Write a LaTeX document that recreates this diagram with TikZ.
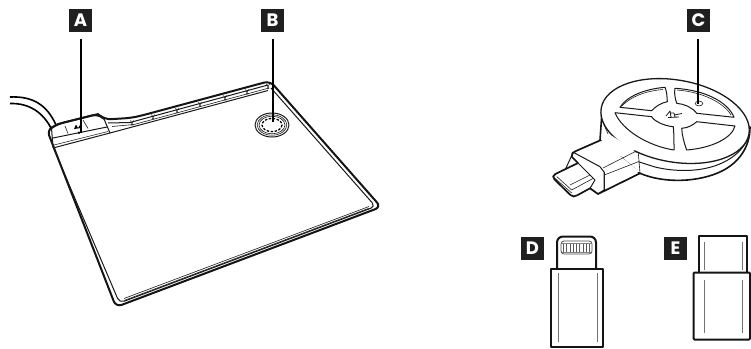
\documentclass[tikz,border=0pt]{standalone}
\usepackage{fontspec}
\setmainfont{Poppins}
\begin{document}
\begin{tikzpicture}[x=1pt,y=-1pt,
  tag/.style={fill=black!88,text=white,minimum size=23pt,inner sep=0pt,font=\fontsize{18}{18}\selectfont\bfseries},
  leader/.style={line width=1.8pt,shorten <=7pt},
  heavy/.style={line width=2pt,line join=round,black!92},
  mid/.style={line width=1pt,line join=round,black!90},
  thin/.style={line width=.6pt,line join=round,black!88},
  ghost/.style={line width=.8pt,black!55}]
\useasboundingbox (0,0) rectangle (751,348);
% ---- cable
\draw[line width=1.6pt] (10,97) .. controls (33,96) and (47,105) .. (56,125);
\draw[line width=1.6pt] (10,103.5) .. controls (30,103) and (43,113) .. (51,128);
% ---- pad
\draw[heavy,rounded corners=6pt,fill=white] (47,130) -- (116,307) -- (381,207) -- (270,81) -- (140,116) -- (130,118) -- (105,119.5) -- (98,114) -- (58,124) -- cycle;
\draw[mid,rounded corners=5pt] (53,147) -- (119.5,303) -- (375.5,206.5) -- (271,88);
\draw[thin] (124,298.5) -- (369,206.5);
\draw[thin] (124,300.5) -- (369,208.2);
% strip
\draw[mid] (53,148) -- (110,133) -- (268,90.5);
\draw[thin] (54,145) -- (108,131.5);
\draw[mid] (108,123) -- (130,122.5) -- (268,85);
\draw[thin] (112,126.5) -- (134,124.5) -- (269,88);
\foreach \x/\y in {132/123,153/117,177/110.5,200/104.5,225/98,247/92,268/86.5}
  \draw[thin] (\x-1.5,\y-2.5) -- (\x+1,\y+2.5) (\x+1.5,\y-2.5) -- (\x-1,\y+2.5);
% connector hump
\draw[heavy,line width=1.8pt] (51.7,128) -- (58,124) -- (98,114) -- (104,119);
\draw[mid] (104,119) -- (110,133);
\draw[mid] (51.5,128) -- (53,147);
\draw[mid] (53,138) -- (107,127);
\draw[thin] (65,126) -- (68,133.5) (83,120) -- (88,128.5);
\fill (74,129) -- (76,124.5) -- (78,128) -- (80,125) -- (81,128) -- cycle;
\fill (79,132.7) circle (1.4);
% ---- pad button
\coordinate (btn) at (272,125);
\draw[mid] (btn) ellipse (17 and 12);
\draw[thin] (btn) ellipse (14.8 and 10.2);
\draw[thin] (btn) ellipse (13 and 8.8);
\draw[line width=1.3pt,dash pattern=on 2.5pt off 1.5pt] (btn) ellipse (10 and 6.6);
% ---- dongle
\coordinate (dc) at (675,121);
% base of the disc and body silhouette
\draw[heavy,line width=1.6pt,fill=white] (602,112) -- (600,140) -- (640,173.3) .. controls (665,184) and (700,182) .. (722,171) .. controls (738,163) and (750,148) .. (750,127) -- cycle;
\fill[white] (598,142) -- (600,140) -- (640,172) -- (604,172) -- cycle;
\draw[mid] (638.3,161.7) -- (655,167) .. controls (680,173) and (705,171) .. (722,163) .. controls (733,158) and (743,150) .. (748,138);
\draw[thin] (602,120) -- (608,134);
% face
\draw[mid,line width=1.3pt,fill=white,rotate around={-10:(dc)}] (dc) ellipse (75 and 41);
% collar and body
\draw[mid,fill=white] (573.3,152.3) -- (600,166.7) -- (604,172) -- (604,190) -- (598,194) -- (590,188.3) -- (565,170) -- cycle;
\fill[white] (601,141) -- (576,152) -- (600,165) -- (635,150) -- (612,136) -- cycle;
\draw[heavy,line width=1.7pt] (601,140) -- (576,151) -- (572.5,153) -- (571.7,156.7) -- (578,163);
\draw[heavy,line width=1.7pt] (590,188.3) -- (598,194) -- (640,173.3);
\draw[thin] (603,168) -- (635,151.7) -- (638,152.5);
\draw[thin] (604.3,175) -- (638.3,161.7);
\draw[thin] (638.3,153) -- (640,173);
\draw[thin] (604,172) -- (604,190);
% USB-C plug
\draw[heavy,line width=1.7pt,fill=white,rounded corners=2pt] (578,163) -- (553.3,175) -- (553,178) -- (572,196.5) -- (575,196.5) -- (590,188.3);
\draw[mid] (578,163) -- (595,180) -- (590,188.3);
\draw[thin] (556.7,176.5) -- (571.7,190) -- (593.3,178.3);
\draw[thin] (570,185) -- (590,175);
\draw[thin] (555,178.3) -- (571.7,193);
% disc panels
\draw[mid] (620,107.3) .. controls (627,96) and (645,89) .. (665,87.3) .. controls (667,92) and (667,97) .. (667.3,101.7) .. controls (661,103) and (656,106) .. (651.7,110.7) -- cycle;
\draw[mid] (675,88.3) .. controls (705,90) and (728,102) .. (734,117.3) -- (696.7,113.3) .. controls (692,107) and (684,104) .. (676.7,103.3) .. controls (675,98) and (674,93) .. cycle;
\draw[mid] (696.7,121.7) -- (735,126) .. controls (732,138) and (712,148) .. (686.7,150) .. controls (684,143) and (682,135) .. (681.7,128.3) .. controls (688,128) and (693,125) .. cycle;
\draw[mid] (615,112.7) -- (651.7,116.7) .. controls (654,121) and (664,126) .. (673.3,126.7) .. controls (674,134) and (674,143) .. (674,150) .. controls (648,146) and (622,130) .. cycle;
\draw[thin] (622,106) .. controls (630,97) and (645,91) .. (663,89.5);
\draw[thin] (677,90) .. controls (703,92) and (724,103) .. (731,115);
% logo
\draw[mid,line width=.8pt] (666,116) -- (670,111) -- (671,117) (670,113) -- (674,113) -- (675,117) (674,115) -- (682,113.5) (668,117.5) -- (679,117);
% hole
\draw[thin] (699,103.5) ellipse (3.8 and 2.4);
% ---- adapter D
\draw[heavy,rounded corners=6pt] (557,268) -- (557,236.5) -- (596,236.5) -- (596,268);
\draw[heavy,fill=white] (551,268.5) rectangle (603,347);
\draw[black!70,line width=.8pt,rounded corners=3pt] (561,241) rectangle (592,254);
\foreach \i in {0,...,8} \draw[black!65,line width=1pt] (563.5+\i*3.25,243) -- (563.5+\i*3.25,252);
\draw[black!50,line width=.7pt] (562,243) -- (591,243) (562,252) -- (591,252);
\draw[ghost] (558,273) -- (558,342) (597,273) -- (597,342);
% ---- adapter E
\draw[heavy] (698.5,273) -- (698.5,235.5) -- (746.5,235.5) -- (746.5,273);
\draw[heavy,fill=white,rounded corners=1pt] (693.5,272.5) rectangle (750,339.5);
\draw[ghost] (704,242) -- (704,270) (742,242) -- (742,270);
\draw[ghost] (704,280) -- (704,333) (742.5,280) -- (742.5,333);
% ---- tags and leaders
\node[tag] (A) at (80.5,20.5) {A};
\node[tag] (B) at (272.5,20.5) {B};
\node[tag] (C) at (698.5,20.5) {C};
\node[tag] (D) at (532.5,248.5) {D};
\node[tag] (E) at (675.5,248.5) {E};
\coordinate (ta) at (80.8,133);
\coordinate (tb) at (272.8,122);
\coordinate (tc) at (698,104);
\draw[leader] (A.south -| ta) -- (ta);
\draw[leader] (B.south -| tb) -- (tb);
\draw[leader] (C.south -| tc) -- (tc);
\end{tikzpicture}
\end{document}
